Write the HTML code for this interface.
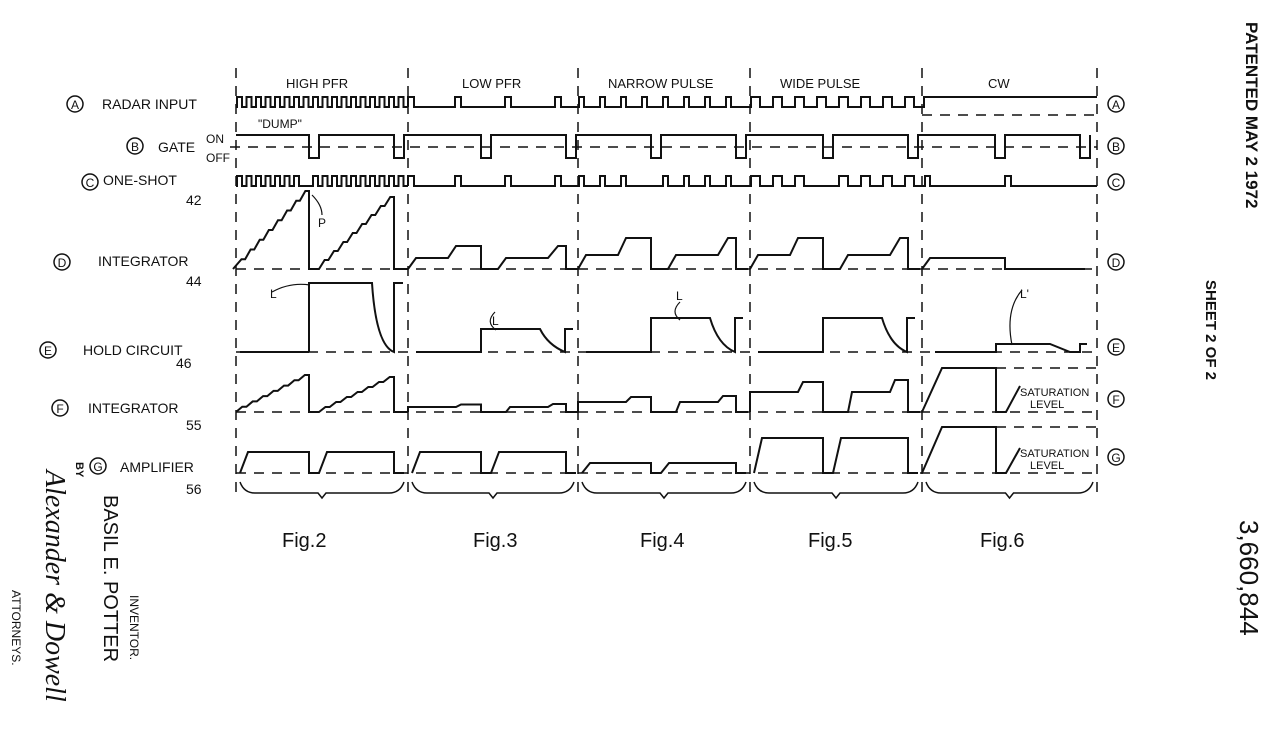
<!DOCTYPE html>
<html><head><meta charset="utf-8"><style>
body{margin:0;background:#fff;}
svg{display:block;font-family:"Liberation Sans",sans-serif;}
</style></head><body>
<svg id="s" width="1280" height="734" viewBox="0 0 1280 734" xmlns="http://www.w3.org/2000/svg">
<g fill="none" stroke="#111" stroke-width="2" id="w"></g>
<g fill="#111" font-size="14">
<text x="286" y="88" font-size="13">HIGH PFR</text>
<text x="462" y="88" font-size="13">LOW PFR</text>
<text x="608" y="88" font-size="13">NARROW PULSE</text>
<text x="780" y="88" font-size="13">WIDE PULSE</text>
<text x="988" y="88" font-size="13">CW</text>
<text x="102" y="109">RADAR INPUT</text>
<text x="158" y="152">GATE</text>
<text x="206" y="143" font-size="12">ON</text>
<text x="206" y="162" font-size="12">OFF</text>
<text x="258" y="128" font-size="12">"DUMP"</text>
<text x="103" y="185">ONE-SHOT</text>
<text x="186" y="205">42</text>
<text x="98" y="266">INTEGRATOR</text>
<text x="186" y="286">44</text>
<text x="83" y="355">HOLD CIRCUIT</text>
<text x="176" y="368">46</text>
<text x="88" y="413">INTEGRATOR</text>
<text x="186" y="430">55</text>
<text x="120" y="472">AMPLIFIER</text>
<text x="186" y="494">56</text>
<text x="318" y="227" font-size="12">P</text>
<text x="270" y="298" font-size="12">L</text>
<text x="492" y="325" font-size="12">L</text>
<text x="676" y="300" font-size="12">L</text>
<text x="1020" y="298" font-size="12">L'</text>
<text x="1020" y="396" font-size="11">SATURATION</text>
<text x="1030" y="408" font-size="11">LEVEL</text>
<text x="1020" y="457" font-size="11">SATURATION</text>
<text x="1030" y="469" font-size="11">LEVEL</text>
<text x="282" y="547" font-size="20">Fig.2</text>
<text x="473" y="547" font-size="20">Fig.3</text>
<text x="640" y="547" font-size="20">Fig.4</text>
<text x="808" y="547" font-size="20">Fig.5</text>
<text x="980" y="547" font-size="20">Fig.6</text>
<text transform="translate(1246,22) rotate(90)" font-size="17" font-weight="bold">PATENTED MAY  2 1972</text>
<text transform="translate(1206,280) rotate(90)" font-size="15" font-weight="bold">SHEET 2 OF 2</text>
<text transform="translate(1240,520) rotate(90)" font-size="26">3,660,844</text>
<text transform="translate(104,495) rotate(90)" font-size="20">BASIL E. POTTER</text>
<text transform="translate(130,595) rotate(90)" font-size="12">INVENTOR.</text>
<text transform="translate(76,462) rotate(90)" font-size="11" font-weight="bold">BY</text>
<text transform="translate(12,590) rotate(90)" font-size="12">ATTORNEYS.</text>
<text transform="translate(46,470) rotate(90)" font-size="28" font-style="italic" font-family="Liberation Serif,serif">Alexander &amp; Dowell</text>
</g>
</svg>
<script>
const g=document.getElementById('w'),S=document.getElementById('s');
const NS='http://www.w3.org/2000/svg';
function P(d,extra){const p=document.createElementNS(NS,'path');p.setAttribute('d',d);if(extra)for(const k in extra)p.setAttribute(k,extra[k]);g.appendChild(p);}
function D(d){P(d,{'stroke-dasharray':'10,8','stroke-width':'1.5'});}
function T(x,y,t,fs){const e=document.createElementNS(NS,'text');e.setAttribute('x',x);e.setAttribute('y',y);e.setAttribute('font-size',fs||13);e.setAttribute('fill','#111');e.setAttribute('text-anchor','middle');e.textContent=t;S.appendChild(e);}
function C(x,y,l){const c=document.createElementNS(NS,'circle');c.setAttribute('cx',x);c.setAttribute('cy',y);c.setAttribute('r',8);c.setAttribute('fill','none');c.setAttribute('stroke','#111');c.setAttribute('stroke-width','1.5');S.appendChild(c);T(x,y+5,l,12);}
const X=[236,408,578,750,922,1097];
X.forEach(x=>D(`M${x} 68V500`));
const rows={A:104,B:146,C:182,D:262,E:347,F:399,G:457};
for(const k in rows)C(1116,rows[k],k);
[[75,104,'A'],[135,146,'B'],[90,182,'C'],[62,262,'D'],[48,350,'E'],[60,408,'F'],[98,466,'G']].forEach(a=>C(a[0],a[1],a[2]));
function pulses(hi,lo,x0,x1,list,w){let d=`M${x0} ${lo}`;list.forEach(px=>{d+=`H${px}V${hi}H${px+w}V${lo}`;});d+=`H${x1}`;return d;}
function rng(a,b,p){const r=[];for(let x=a;x<b;x+=p)r.push(x);return r;}
const specs=[{p:9.5,w:5},{list:[0,47,97,147],w:6},{p:21,w:5},{p:22,w:9}];
function plist(i,skipDump){const x0=X[i];let l=specs[i].list?specs[i].list.map(v=>v+x0):rng(x0+1,X[i+1]-3,specs[i].p);if(skipDump)l=l.filter(v=>!(v>x0+63&&v<x0+73));return l;}
let dA='',dC='';
for(let i=0;i<4;i++){dA+=pulses(97,107,X[i],X[i+1],plist(i,false),specs[i].w);dC+=pulses(176,186,X[i],X[i+1],plist(i,true),specs[i].w);}
P(dA+`M922 107H924V97H1097`);D('M922 115H1097');
P(dC+`M922 186H925V176H930V186H1005V176H1011V186H1097`);
let dB='M236 135';
for(let i=0;i<5;i++){const x=X[i];dB+=`H${x+73}V158H${x+83}V135H${x+158}V158H${x+168}V135`;}
P(dB);D('M230 147H1097');
D('M236 269H1097');D('M236 352H1097');D('M236 412H1097');D('M236 473H1097');
let d='M233 269';
function stair(x0,x1,y0,y1,n){let s='';const dx=(x1-x0)/n,dy=(y1-y0)/n;for(let k=0;k<n;k++){s+=`L${x0+dx*k+dx*0.6} ${y0+dy*(k+1)}H${x0+dx*(k+1)}`;}return s;}
d+=stair(236,309,269,191,8)+'V269H319'+stair(319,394,269,197,8)+'V269H408';
P(d);
for(let i=1;i<4;i++){const x=X[i];const lvl=i==1?258:255,top=i==1?246:238;
 P(`M${x} 269L${x+8} ${lvl}H${x+40}L${x+48} ${top}H${x+73}V269H${x+90}L${x+98} ${lvl}H${x+140}L${x+150} ${top}H${x+158}V269H${x+170}`);}
P('M922 269L930 258H1005V269H1085');
P('M309 352V283H372Q376 345 394 352V283H403');
P('M240 352H309');
for(let i=1;i<4;i++){const x=X[i];const top=i==1?329:318;P(`M${x+8} 352H${x+73}V${top}H${x+132}Q${x+140} 345 ${x+157} 352V${top}H${x+165}`);}
P('M935 352H996V344H1050L1070 352H1080V344H1087');
P('M272 292Q290 282 310 285',{'stroke-width':'1.2'});
P('M495 312Q485 322 496 330',{'stroke-width':'1.2'});
P('M680 302Q670 312 680 320',{'stroke-width':'1.2'});
P('M1022 290Q1005 310 1012 345',{'stroke-width':'1.2'});
P('M312 195Q322 205 322 215',{'stroke-width':'1.2'});
P('M236 412'+stair(236,309,412,375,7)+'V412H319'+stair(319,394,412,377,7)+'V412H408');
for(let i=1;i<4;i++){const x=X[i];const s=i==1?5:i==2?10:20;
 P(`M${x} 412V${412-s}H${x+48}L${x+53} ${412-s-s/2}H${x+73}V412H${x+98}L${x+102} ${412-s}H${x+140}L${x+145} ${412-s*1.6}H${x+158}V412H${x+170}`);}
P('M922 412L942 368H996V412H1006L1020 386');D('M942 368H1097');
for(let i=0;i<4;i++){const x=X[i];const top=i==3?438:i==2?463:452;
 P(`M${x+4} 473L${x+12} ${top}H${x+73}V473H${x+83}L${x+91} ${top}H${x+158}V473H${x+168}`);}
P('M922 473L942 427H996V473H1006L1020 448');D('M942 427H1097');
for(let i=0;i<5;i++){const a=X[i]+4,b=X[i+1]-4,m=(a+b)/2;P(`M${a} 482Q${a+4} 493 ${a+15} 493H${m-4}L${m} 498L${m+4} 493H${b-15}Q${b-4} 493 ${b} 482`,{'stroke-width':'1.5'});}
</script>
</body></html>
